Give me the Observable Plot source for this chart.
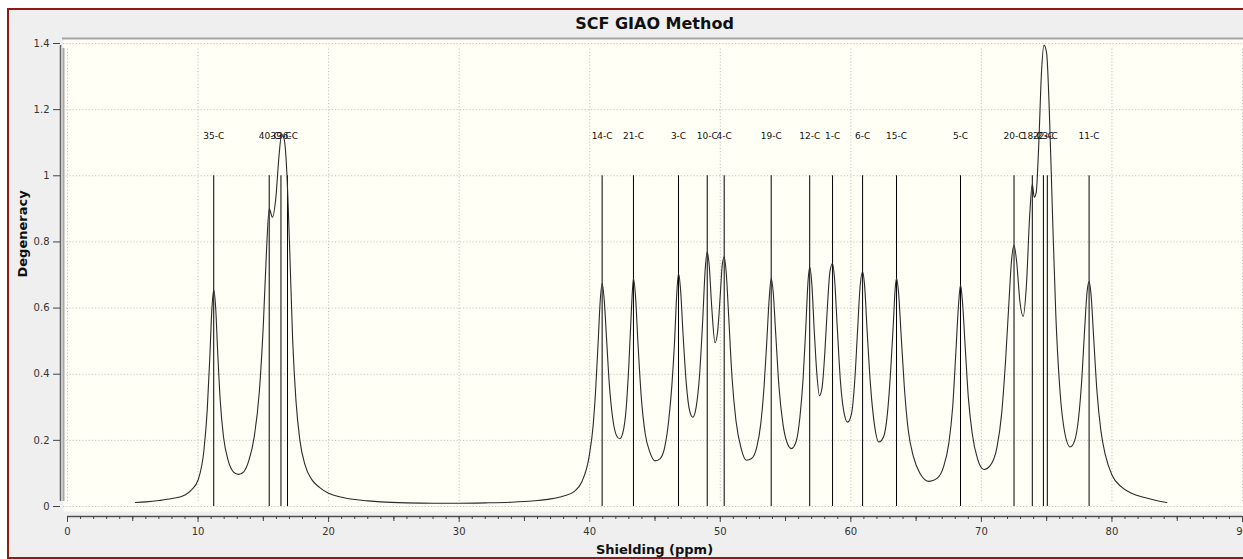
<!DOCTYPE html>
<html>
<head>
<meta charset="utf-8">
<script src="https://cdn.jsdelivr.net/npm/d3@7"></script>
<script src="https://cdn.jsdelivr.net/npm/@observablehq/plot@0.6"></script>
<style>
  html, body { margin: 0; padding: 0; background: #ffffff; overflow: hidden; }
  #chart svg { display: block; }
</style>
</head>
<body>
<div id="chart"></div>
<script>
// ---- Data ----
const chartTitle = "SCF GIAO Method";
const xTitle = "Shielding (ppm)";
const yTitle = "Degeneracy";

// stick spectrum: atom labels, shielding (ppm), degeneracy
const peakLabels = ["35-C","40-C","39-C","36-C","14-C","21-C","3-C","10-C","4-C","19-C",
                    "12-C","1-C","6-C","15-C","5-C","20-C","18-C","22-C","23-C","11-C"];
const peakShifts = [11.2, 15.45, 16.35, 16.85, 40.95, 43.35, 46.8, 49.0, 50.3, 53.9,
                    56.85, 58.6, 60.9, 63.5, 68.4, 72.5, 73.9, 74.75, 75.05, 78.25];
const peakDegeneracy = [1,1,1,1,1,1,1,1,1,1,1,1,1,1,1,1,1,1,1,1];

// broadened spectrum curve (sampled by eye)
const curveShift = [
  // 5 - 14 ppm
  5.2, 6, 7, 8, 9, 9.5, 10.0, 10.45, 10.7, 10.9, 11.05, 11.2, 11.35, 11.5, 11.7, 11.95, 12.3, 12.7, 13.1, 13.5, 13.9,
  // 14 - 38 ppm
  14.3, 14.7, 15.0, 15.25, 15.45, 15.7, 15.95, 16.2, 16.4, 16.6, 16.8, 17.0, 17.25, 17.5, 17.8, 18.2, 18.7, 19.3, 20, 21,
  22, 23, 24, 26, 28, 30, 32, 34, 35, 36, 37, 38,
  // 38 - 52 ppm
  38.8, 39.4, 39.95, 40.25, 40.45, 40.65, 40.8, 40.95, 41.1, 41.3, 41.5, 41.75, 42.05, 42.3, 42.55, 42.8, 43.0, 43.2, 43.35, 43.5,
  43.7, 43.95, 44.25, 44.6, 45.0, 45.4, 45.75, 46.05, 46.3, 46.5, 46.65, 46.8, 46.95, 47.15, 47.4, 47.65, 47.9, 48.15, 48.4, 48.65,
  48.85, 49.0, 49.15, 49.35, 49.6, 49.8, 50.0, 50.15, 50.3, 50.45, 50.65, 50.9, 51.2, 51.6, 52.0,
  // 52 - 66 ppm
  52.4, 52.8, 53.1, 53.35, 53.55, 53.75, 53.9, 54.05, 54.25, 54.5, 54.8, 55.1, 55.45, 55.8, 56.1, 56.35, 56.55, 56.72, 56.85, 57.0,
  57.2, 57.4, 57.6, 57.8, 58.0, 58.2, 58.4, 58.6, 58.75, 58.95, 59.2, 59.45, 59.75, 60.05, 60.3, 60.5, 60.7, 60.9, 61.05, 61.25,
  61.5, 61.8, 62.15, 62.5, 62.8, 63.05, 63.25, 63.4, 63.5, 63.65, 63.85, 64.1, 64.4, 64.8, 65.3, 66.0,
  // 66 - 84 ppm
  66.6, 67.1, 67.5, 67.8, 68.05, 68.25, 68.4, 68.55, 68.75, 69.0, 69.3, 69.7, 70.2, 70.7, 71.2, 71.55, 71.85, 72.1, 72.3, 72.5,
  72.7, 72.95, 73.2, 73.45, 73.7, 73.9, 74.05, 74.2, 74.4, 74.6, 74.8, 75.0, 75.2, 75.45, 75.7, 76.0, 76.4, 76.8, 77.15, 77.45,
  77.7, 77.9, 78.1, 78.25, 78.4, 78.6, 78.85, 79.15, 79.5, 80.0, 80.7, 81.5, 82.5, 83.4, 84.2
];
const curveIntensity = [
  // 5 - 14 ppm
  0.012, 0.014, 0.018, 0.024, 0.035, 0.05, 0.08, 0.17, 0.29, 0.45, 0.59, 0.655, 0.60, 0.47, 0.32, 0.21, 0.14, 0.105, 0.097, 0.105, 0.14,
  // 14 - 38 ppm
  0.21, 0.35, 0.55, 0.78, 0.90, 0.875, 0.93, 1.06, 1.125, 1.11, 1.01, 0.80, 0.50, 0.32, 0.20, 0.125, 0.082, 0.058, 0.04, 0.028,
  0.021, 0.017, 0.014, 0.011, 0.01, 0.01, 0.011, 0.013, 0.015, 0.018, 0.023, 0.032,
  // 38 - 52 ppm
  0.045, 0.075, 0.15, 0.24, 0.35, 0.50, 0.62, 0.675, 0.63, 0.50, 0.37, 0.27, 0.215, 0.205, 0.225, 0.30, 0.43, 0.60, 0.69, 0.64,
  0.49, 0.33, 0.22, 0.165, 0.138, 0.145, 0.18, 0.26, 0.37, 0.50, 0.63, 0.705, 0.66, 0.52, 0.37, 0.29, 0.27, 0.30, 0.39, 0.56,
  0.72, 0.77, 0.73, 0.60, 0.495, 0.53, 0.64, 0.73, 0.755, 0.71, 0.57, 0.39, 0.26, 0.175, 0.14,
  // 52 - 66 ppm
  0.145, 0.18, 0.25, 0.36, 0.49, 0.63, 0.69, 0.65, 0.52, 0.36, 0.25, 0.195, 0.175, 0.195, 0.27, 0.39, 0.54, 0.68, 0.725, 0.68,
  0.53, 0.40, 0.335, 0.36, 0.46, 0.60, 0.71, 0.735, 0.69, 0.55, 0.38, 0.29, 0.255, 0.28, 0.38, 0.52, 0.66, 0.71, 0.67, 0.53,
  0.37, 0.25, 0.195, 0.21, 0.28, 0.41, 0.55, 0.66, 0.69, 0.65, 0.52, 0.36, 0.23, 0.15, 0.10, 0.076,
  // 66 - 84 ppm
  0.085, 0.12, 0.19, 0.30, 0.47, 0.61, 0.67, 0.62, 0.49, 0.33, 0.22, 0.145, 0.112, 0.125, 0.18, 0.28, 0.44, 0.61, 0.74, 0.79,
  0.74, 0.62, 0.575, 0.67, 0.88, 0.975, 0.935, 0.95, 1.10, 1.31, 1.395, 1.37, 1.20, 0.88, 0.58, 0.36, 0.22, 0.18, 0.20, 0.27,
  0.39, 0.53, 0.65, 0.68, 0.64, 0.51, 0.35, 0.23, 0.155, 0.095, 0.06, 0.04, 0.027, 0.018, 0.012
];

// axis ticks
const xTickValues = [0, 10, 20, 30, 40, 50, 60, 70, 80, 90];
const xMidTickValues = [5, 15, 25, 35, 45, 55, 65, 75, 85];
const xMinorTickValues = d3.range(0, 91, 1);
const yTickValues = [0, 0.2, 0.4, 0.6, 0.8, 1, 1.2, 1.4];

// ---- Build tables ----
const sticks = peakShifts.map((x, i) => ({x, y: peakDegeneracy[i], label: peakLabels[i]}));
const nCurve = Math.min(curveShift.length, curveIntensity.length);
const curve = curveShift.slice(0, nCurve).map((x, i) => ({x, y: curveIntensity[i]}));
const labelLevel = 1.12;

const font = "DejaVu Sans, Verdana, sans-serif";
const gridStyle = {stroke: "#c2c2c2", strokeDasharray: "1.2,2", strokeWidth: 1};

const chart = Plot.plot({
  width: 1243,
  height: 559,
  marginLeft: 60,
  marginRight: 0,
  marginTop: 38,
  marginBottom: 43,
  x: {domain: [0, 90], range: [67, 1242]},
  y: {domain: [0, 1.4], range: [506, 43]},
  style: {background: "transparent", fontFamily: font, color: "#222"},
  marks: [
    // plot area background
    Plot.frame({fill: "#fffff6", insetLeft: 3, insetBottom: 5}),
    // grid
    Plot.ruleX(xTickValues, {y1: 0, y2: 1.4, insetTop: -5, insetBottom: -5, ...gridStyle}),
    Plot.ruleY(yTickValues, {x1: 0, x2: 90, insetLeft: -4, insetRight: -1, ...gridStyle}),
    // plot area border (left & top)
    Plot.ruleX([0], {y1: 0, y2: 1.4, dx: -4, insetTop: -5, insetBottom: -5, stroke: "#a6a6a6", strokeWidth: 2}),
    Plot.ruleY([1.4], {x1: 0, x2: 90, dy: -5, insetLeft: -5, insetRight: -1, stroke: "#a6a6a6", strokeWidth: 2}),
    // axis lines
    Plot.ruleX([0], {y1: 0, y2: 1.4, dx: -7, insetTop: -5, insetBottom: -2, stroke: "#606060", strokeWidth: 1.5}),
    Plot.ruleY([0], {x1: 0, x2: 90, dy: 10, stroke: "#505050", strokeWidth: 1.5}),
    // axes
    Plot.axisX({ticks: xMinorTickValues, tickSize: 3, tickFormat: () => "", label: null, stroke: "#444"}),
    Plot.axisX({ticks: xMidTickValues, tickSize: 5, tickFormat: () => "", label: null, stroke: "#444"}),
    Plot.axisX({ticks: xTickValues, tickSize: 6, tickPadding: 5, label: null, stroke: "#444",
                fill: "#333", fontSize: 10, tickFormat: d => String(d)}),
    Plot.axisY({ticks: yTickValues, tickSize: 7, tickPadding: 4, label: null, stroke: "#444",
                fill: "#333", fontSize: 10, tickFormat: d => String(+d.toFixed(1))}),
    // stick spectrum
    Plot.ruleX(sticks, {x: "x", y1: 0, y2: "y", stroke: "#000", strokeWidth: 1}),
    Plot.text(sticks, {x: "x", y: () => labelLevel, text: "label", fontSize: 9, fill: "#111"}),
    // broadened curve
    Plot.line(curve, {x: "x", y: "y", curve: "monotone-x", stroke: "#2a2a2a", strokeWidth: 1.1}),
    // titles
    Plot.text([chartTitle], {frameAnchor: "top", dx: 2.5, dy: -10, lineAnchor: "bottom",
                             fontSize: 16, fontWeight: "bold", fill: "#111"}),
    Plot.text([xTitle], {frameAnchor: "bottom", dx: 2.5, dy: 37, lineAnchor: "bottom",
                         fontSize: 13, fontWeight: "bold", fill: "#111"}),
    Plot.text([yTitle], {frameAnchor: "left", dx: -38, rotate: -90,
                         fontSize: 13, fontWeight: "bold", fill: "#111"})
  ]
});

// outer widget panel with dark red border
const svg = d3.select(chart);
svg.insert("rect", ":first-child")
  .attr("x", 8).attr("y", 9).attr("width", 1240).attr("height", 549)
  .attr("fill", "#efefef").attr("stroke", "#8e1a1a").attr("stroke-width", 2);
svg.insert("rect", ":first-child")
  .attr("x", 0).attr("y", 0).attr("width", 1243).attr("height", 559).attr("fill", "#ffffff");

document.getElementById("chart").appendChild(chart);
</script>
</body>
</html>
